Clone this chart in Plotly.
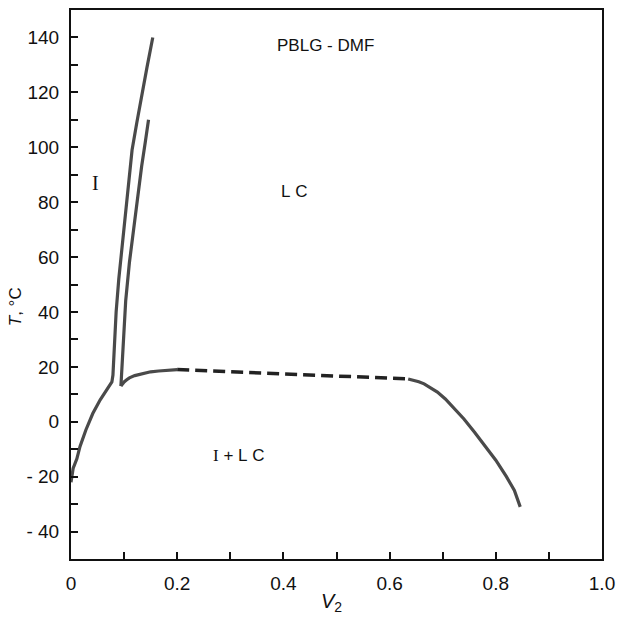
import plotly.graph_objects as go

# Left branch: I / (I+LC) boundary, rising to the upper-left line
left_x = [0.0, 0.004, 0.011, 0.017, 0.028, 0.041, 0.055, 0.065, 0.072, 0.077, 0.079, 0.081, 0.085, 0.090, 0.100, 0.115, 0.124, 0.131, 0.143, 0.154]
left_y = [-22, -17, -13.5, -9, -3, 3, 8, 10.8, 12.7, 14.5, 17, 25, 40, 52, 72, 99, 109, 117, 129, 140]

# Right (inner) upper line
right_x = [0.094, 0.097, 0.103, 0.110, 0.119, 0.133, 0.140, 0.146]
right_y = [13, 24, 44, 58, 72, 93, 102, 110]

# Lower solid segment from kink to dashed part
low_x = [0.094, 0.097, 0.100, 0.105, 0.110, 0.120, 0.130, 0.140, 0.150, 0.165, 0.180, 0.200]
low_y = [13, 13.8, 14.5, 15.3, 16, 16.8, 17.3, 17.8, 18.2, 18.5, 18.8, 19]

# Dashed plateau
dash_x = [0.200, 0.300, 0.400, 0.500, 0.600, 0.635]
dash_y = [19, 18.2, 17.5, 16.7, 16, 15.6]

# Right descending branch
desc_x = [0.635, 0.645, 0.655, 0.665, 0.675, 0.690, 0.705, 0.720, 0.740, 0.760, 0.780, 0.800, 0.820, 0.835, 0.846]
desc_y = [15.6, 15.2, 14.6, 13.8, 12.7, 10.8, 8.3, 5.3, 1, -3.8, -8.8, -14, -20, -25, -31]

xticks = [0, 0.2, 0.4, 0.6, 0.8, 1.0]
xticklabels = ["0", "0.2", "0.4", "0.6", "0.8", "1.0"]
yticks = [140, 120, 100, 80, 60, 40, 20, 0, -20, -40]
yticklabels = ["140", "120", "100", "80", "60", "40", "20", "0", "- 20", "- 40"]

LINE = "#4a4a4a"
fig = go.Figure()
for xs, ys in [(left_x, left_y), (right_x, right_y), (low_x, low_y), (desc_x, desc_y)]:
    fig.add_trace(go.Scatter(x=xs, y=ys, mode="lines", line=dict(color=LINE, width=3.2), hoverinfo="skip"))
fig.add_trace(go.Scatter(x=dash_x, y=dash_y, mode="lines", line=dict(color="#222", width=3.5, dash="12px,6px"), hoverinfo="skip"))

FONT = "Liberation Sans, Arial, sans-serif"
SERIF = "Liberation Serif, serif"
ann = [
    dict(x=0.48, y=137, text="PBLG\u00a0-\u00a0DMF", size=17),
    dict(x=0.42, y=84, text="L\u00a0C", size=17),
    dict(x=0.046, y=87, text=f"<span style='font-family:{SERIF};fill:#111'>I</span>", size=20),
    dict(x=0.317, y=-12.4, text=f"<span style='font-family:{SERIF};fill:#111'>I</span>\u00a0+\u00a0L\u00a0C", size=17),
]
annotations = [dict(xref="x", yref="y", x=a["x"], y=a["y"], text=a["text"], showarrow=False,
                    font=dict(family=FONT, color="#111", size=a["size"])) for a in ann]
annotations.append(dict(xref="paper", yref="paper", x=-0.104, y=0.46, xanchor="center", yanchor="middle",
                        text="<i>T</i>, °C", textangle=-90, showarrow=False, font=dict(family=FONT, size=17, color="#111")))
annotations.append(dict(xref="paper", yref="paper", x=0.49, y=-0.08, text="<i>V</i><sub>2</sub>", showarrow=False,
                        yanchor="middle", font=dict(family=FONT, size=20, color="#111")))

fig.update_layout(
    width=623, height=622,
    margin=dict(l=71, r=13, t=8, b=63),
    paper_bgcolor="white", plot_bgcolor="white",
    showlegend=False,
    font=dict(family=FONT, size=19, color="#111"),
    annotations=annotations,
    xaxis=dict(range=[0, 1.0], tickvals=xticks, ticktext=xticklabels, ticks="inside", ticklen=7, tickwidth=1.5,
               showline=True, linewidth=2, linecolor="#111", mirror=True, showgrid=False, zeroline=False,
               minor=dict(ticks="inside", tick0=0, dtick=0.1, ticklen=7, tickwidth=1.5, tickcolor="#111"),
               tickcolor="#111", ticklabelstandoff=6, ticklabeloverflow="allow"),
    yaxis=dict(range=[-50, 150], tickvals=yticks, ticktext=yticklabels, ticks="inside", ticklen=7, tickwidth=1.5,
               showline=True, linewidth=2, linecolor="#111", mirror=True, showgrid=False, zeroline=False,
               minor=dict(ticks="inside", tick0=-50, dtick=10, ticklen=7, tickwidth=1.5, tickcolor="#111"),
               tickcolor="#111", ticklabelstandoff=6),
)
fig.write_html("out.html")
